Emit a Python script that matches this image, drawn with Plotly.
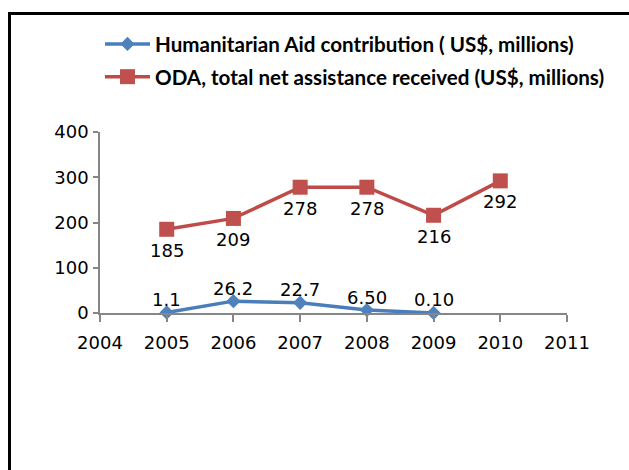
import plotly.graph_objects as go

years = [2005, 2006, 2007, 2008, 2009, 2010]
humanitarian = [1.1, 26.2, 22.7, 6.50, 0.10, None]
humanitarian_text = ["1.1", "26.2", "22.7", "6.50", "0.10", ""]
oda = [185, 209, 278, 278, 216, 292]
oda_text = ["185", "209", "278", "278", "216", "292"]

x_ticks = [2004, 2005, 2006, 2007, 2008, 2009, 2010, 2011]
y_ticks = [0, 100, 200, 300, 400]

label_font = dict(family="DejaVu Sans", size=18, color="#000000")

fig = go.Figure()
fig.add_trace(go.Scatter(
    x=years, y=humanitarian,
    mode="lines+markers",
    name="Humanitarian Aid contribution ( US$, millions)",
    legendgroup="a",
    line=dict(color="#4A7EBB", width=3.5),
    marker=dict(symbol="diamond", size=11, color="#4F81BD"),
    cliponaxis=False,
))
fig.add_trace(go.Scatter(
    x=years, y=oda,
    mode="lines+markers",
    name="ODA, total net assistance received (US$, millions)",
    legendgroup="b",
    line=dict(color="#BE4B48", width=3.5),
    marker=dict(symbol="square", size=15, color="#C0504D"),
    cliponaxis=False,
))

# value labels: above the humanitarian points, below the ODA points
labels = []
for x, y, t in zip(years, humanitarian, humanitarian_text):
    if y is not None and t:
        labels.append(dict(x=x, y=y, text=t, showarrow=False, font=label_font,
                           xanchor="center", yanchor="middle", yshift=13))
for x, y, t in zip(years, oda, oda_text):
    labels.append(dict(x=x, y=y, text=t, showarrow=False, font=label_font,
                       xanchor="center", yanchor="middle", yshift=-21))

# frame around the chart area (left and top edges)
L, R, T, B = 100, 62, 132, 157
W, H = 629, 470
pw, ph = W - L - R, H - T - B
fx = lambda px: (px - L) / pw
fy = lambda py: (H - B - py) / ph
frame = dict(type="line", xref="paper", yref="paper",
             line=dict(color="#000000", width=3))

fig.update_layout(
    width=W, height=H,
    margin=dict(l=L, r=R, t=T, b=B),
    paper_bgcolor="white", plot_bgcolor="white",
    showlegend=True,
    legend=dict(
        x=fx(100), y=fy(24), xanchor="left", yanchor="top",
        font=dict(family="Lato", size=20.6, color="#000000", weight=700),
        itemwidth=45, tracegroupgap=3,
        bgcolor="rgba(0,0,0,0)",
    ),
    xaxis=dict(
        range=[2004, 2011], tickvals=x_ticks,
        ticktext=[str(v) for v in x_ticks],
        showgrid=False, zeroline=False,
        showline=True, linecolor="#868686", linewidth=1.5,
        ticks="outside", ticklen=7, tickcolor="#868686", tickwidth=1.5,
        ticklabelstandoff=6,
        tickfont=label_font,
    ),
    yaxis=dict(
        range=[0, 400], tickvals=y_ticks,
        showgrid=False, zeroline=False,
        showline=True, linecolor="#868686", linewidth=1.5,
        ticks="outside", ticklen=5, tickcolor="#868686", tickwidth=1.5,
        ticklabelstandoff=1,
        tickfont=label_font,
    ),
    annotations=labels,
    shapes=[
        dict(frame, x0=fx(9.5), x1=fx(9.5), y0=fy(12), y1=fy(H + 5)),
        dict(frame, x0=fx(8), x1=fx(W + 5), y0=fy(13.5), y1=fy(13.5)),
    ],
)

fig.write_html("out.html")
